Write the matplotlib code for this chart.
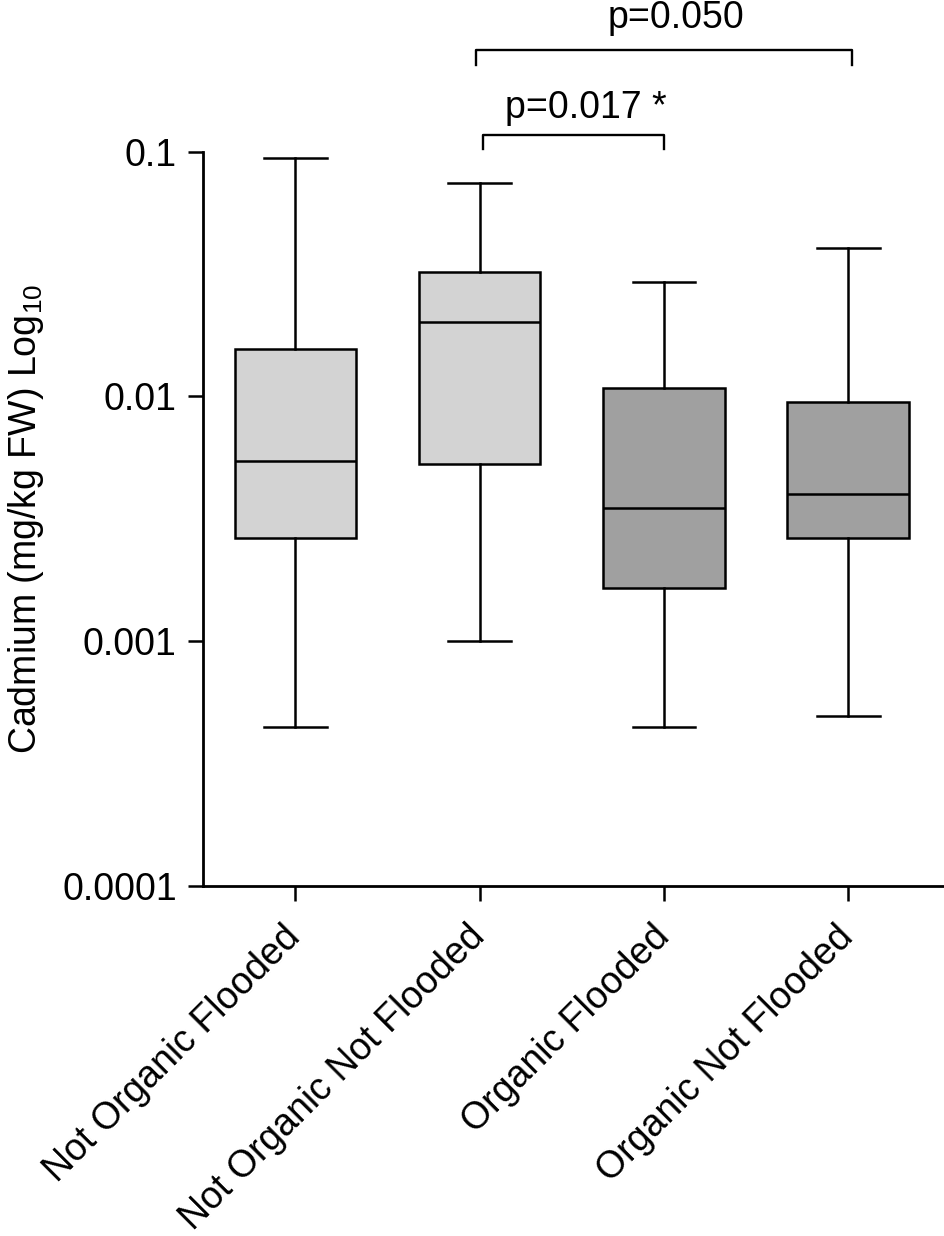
import matplotlib
matplotlib.use("Agg")
import matplotlib.pyplot as plt
from matplotlib.transforms import blended_transform_factory

plt.rcParams['font.family'] = ['Liberation Sans', 'DejaVu Sans']

categories = ["Not Organic Flooded", "Not Organic Not Flooded", "Organic Flooded", "Organic Not Flooded"]
whisker_low = [0.000447, 0.000998, 0.000447, 0.000495]
q1 = [0.00264, 0.00530, 0.00164, 0.00264]
median = [0.00546, 0.0201, 0.00351, 0.00398]
q3 = [0.01564, 0.0322, 0.01084, 0.00946]
whisker_high = [0.0939, 0.0747, 0.0292, 0.0403]
box_colors = ["#d3d3d3", "#d3d3d3", "#a0a0a0", "#a0a0a0"]
yticks = [0.0001, 0.001, 0.01, 0.1]
ytick_labels = ["0.0001", "0.001", "0.01", "0.1"]
comparisons = [(1, 2, "p=0.017 *"), (1, 3, "p=0.050")]

fig = plt.figure(figsize=(9.45, 12.36), dpi=100)
ax = fig.add_axes([0.2150, 0.2834, 0.999 - 0.2150, 0.8773 - 0.2834])

stats = []
for i in range(len(categories)):
    stats.append(dict(med=median[i], q1=q1[i], q3=q3[i],
                      whislo=whisker_low[i], whishi=whisker_high[i], fliers=[]))

lw = 1.8
bp = ax.bxp(stats, positions=range(len(categories)), widths=0.66, capwidths=0.34,
            patch_artist=True, showfliers=False,
            boxprops=dict(linewidth=lw, edgecolor='black'),
            medianprops=dict(color='black', linewidth=lw),
            whiskerprops=dict(color='black', linewidth=lw),
            capprops=dict(color='black', linewidth=lw))
for patch, c in zip(bp['boxes'], box_colors):
    patch.set_facecolor(c)

ax.set_yscale('log')
ax.set_ylim(1e-4, 1e-1)
ax.set_xlim(-0.5, 3.52)
ax.set_yticks(yticks)
ax.set_yticklabels(ytick_labels)
ax.yaxis.set_minor_locator(matplotlib.ticker.NullLocator())
ax.set_xticks(range(len(categories)))
ax.set_xticklabels(categories, rotation=45, ha='right', va='center', rotation_mode='anchor')

for s in ['top', 'right']:
    ax.spines[s].set_visible(False)
for s in ['left', 'bottom']:
    ax.spines[s].set_linewidth(2.0)
ax.tick_params(axis='both', length=11, width=1.8, labelsize=27, color='black')
ax.tick_params(axis='y', pad=8)
ax.tick_params(axis='x', pad=22)

ax.set_ylabel(r"Cadmium (mg/kg FW) Log$_{\mathregular{10}}$", fontsize=27)
ax.yaxis.set_label_coords(-0.212, 0.5)

trans = blended_transform_factory(ax.transData, ax.transAxes)
# bracket geometry: x0, x1, bar height, end height, text x, text baseline
br = [(1.02, 2.0, 1.0228, 1.0033, 1.575, 1.0459),
      (0.98, 3.02, 1.1386, 1.1181, 2.065, 1.168)]
for (a, b, label), (x0, x1, yb, ye, tx, ty) in zip(comparisons, br):
    ax.plot([x0, x0, x1, x1], [ye, yb, yb, ye], transform=trans, color='black',
            linewidth=1.7, clip_on=False)
    ax.text(tx, ty, label, transform=trans, ha='center', va='baseline', fontsize=27)

fig.savefig("out.png", dpi=100)
